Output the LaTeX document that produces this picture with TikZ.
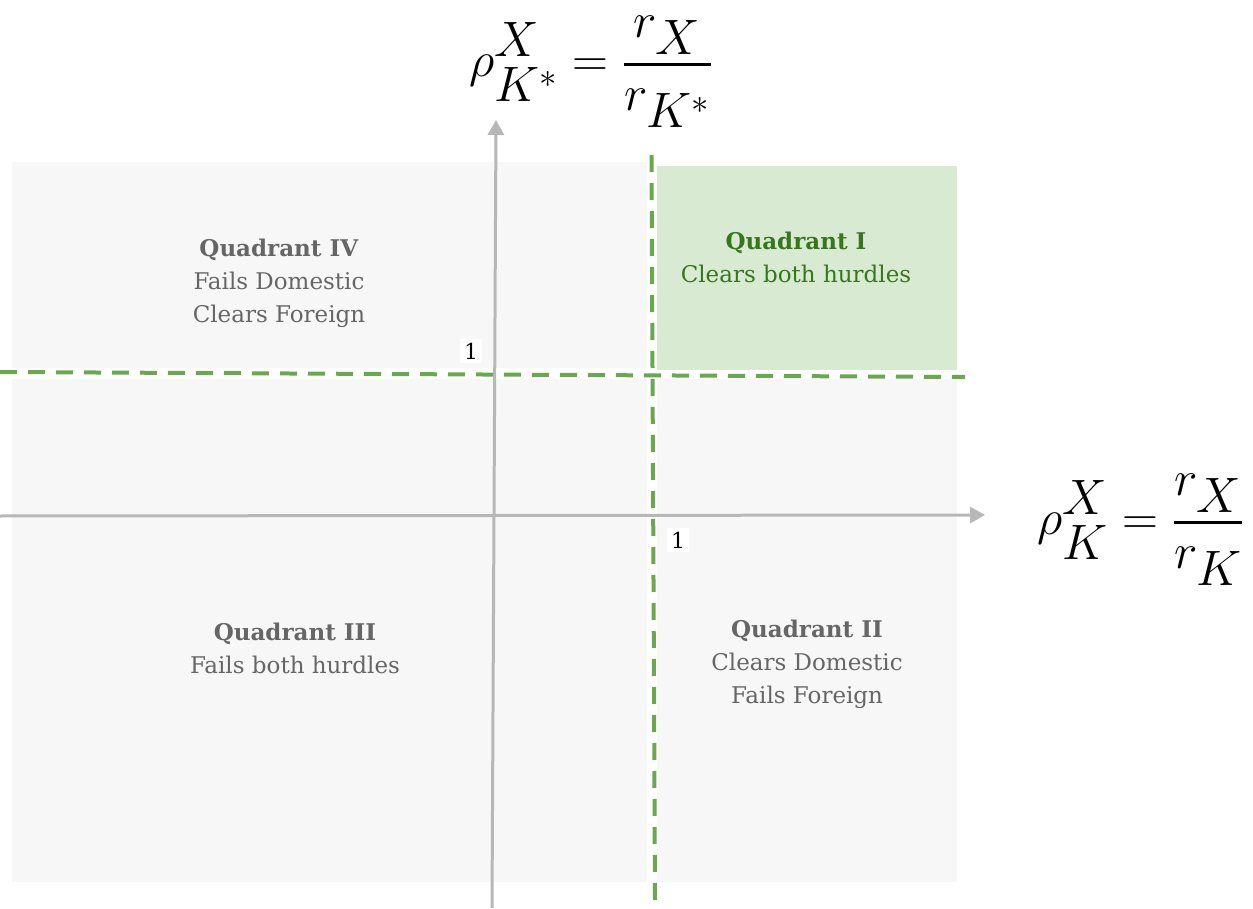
\documentclass[tikz,border=0pt]{standalone}
\usepackage{amsmath,amssymb}
\usepackage{fontspec}
\setmainfont{DejaVu Serif}
\usepackage{tikz}
\usetikzlibrary{arrows.meta}
\definecolor{quadgray}{HTML}{F7F7F7}
\definecolor{quadgreen}{HTML}{D9EAD3}
\definecolor{hurdle}{HTML}{6AA84F}
\definecolor{greentext}{HTML}{38761D}
\definecolor{graytext}{HTML}{666666}
\definecolor{axisgray}{HTML}{B7B7B7}
\tikzset{>={Triangle[width=8pt,length=7.5pt]}}
\tikzset{
  axisline/.style={draw=axisgray, line width=1.5pt, ->},
  hurdleline/.style={draw=hurdle, line width=2pt, dash pattern=on 8.5pt off 5.5pt},
  quadtext/.style={align=center, text=graytext, font=\fontsize{11.5}{16.5}\selectfont},
  onelabel/.style={fill=white, inner sep=2pt, font=\fontsize{11}{12}\selectfont},
  ratio/.style={font=\fontsize{35}{40}\selectfont, inner sep=0pt}
}

\begin{document}
\begin{tikzpicture}[x=0.5pt, y=-0.5pt]

  \useasboundingbox (0,0) rectangle (1253,909);

  %% <quadrants>
  \fill[quadgray] (12,162) rectangle (647,368);   % IV
  \fill[quadgray] (12,379) rectangle (647,882);   % III
  \fill[quadgray] (657,379) rectangle (957,882);  % II
  \fill[quadgreen] (657,166) rectangle (957,370); % I
  % </quadrants>

  %% axes
  \coordinate (xstart) at (0,516);
  \coordinate (xend) at (985,515);
  \coordinate (ystart) at (492,908);
  \coordinate (yend) at (496,120);
  \draw[axisline] (xstart) -- (xend);
  \draw[axisline] (ystart) -- (yend);

  %% hurdles
  \coordinate (hleft) at (0,372);
  \coordinate (hright) at (965,377);
  \coordinate (vtop) at (651.5,155);
  \coordinate (vbottom) at (655,900);
  \draw[hurdleline] (hleft) -- (hright);
  \draw[hurdleline] (vtop) -- (vbottom);

  \node[onelabel] (oneY) at (471,351) {1};
  \node[onelabel] (oneX) at (678,540) {1};

  %% quadrant labels
  \node[quadtext, text=greentext] (quadI) at (796,257)
    {\textbf{Quadrant I}\\Clears both hurdles};
  \node[quadtext] (quadII) at (807,664)
    {\textbf{Quadrant II}\\Clears Domestic\\Fails Foreign};
  \node[quadtext] (quadIII) at (295,648)
    {\textbf{Quadrant III}\\Fails both hurdles};
  \node[quadtext] (quadIV) at (279,283)
    {\textbf{Quadrant IV}\\Fails Domestic\\Clears Foreign};

  %% ratios
  \node[ratio] (rhoY) at (591,72)
    {$\displaystyle \rho^{X}_{K^*} = \frac{r_X}{r_{K^*}}$};
  \node[ratio] (rhoX) at (1141,530)
    {$\displaystyle \rho^{X}_{K} = \frac{r_X}{r_{K}}$};

\end{tikzpicture}
\end{document}
